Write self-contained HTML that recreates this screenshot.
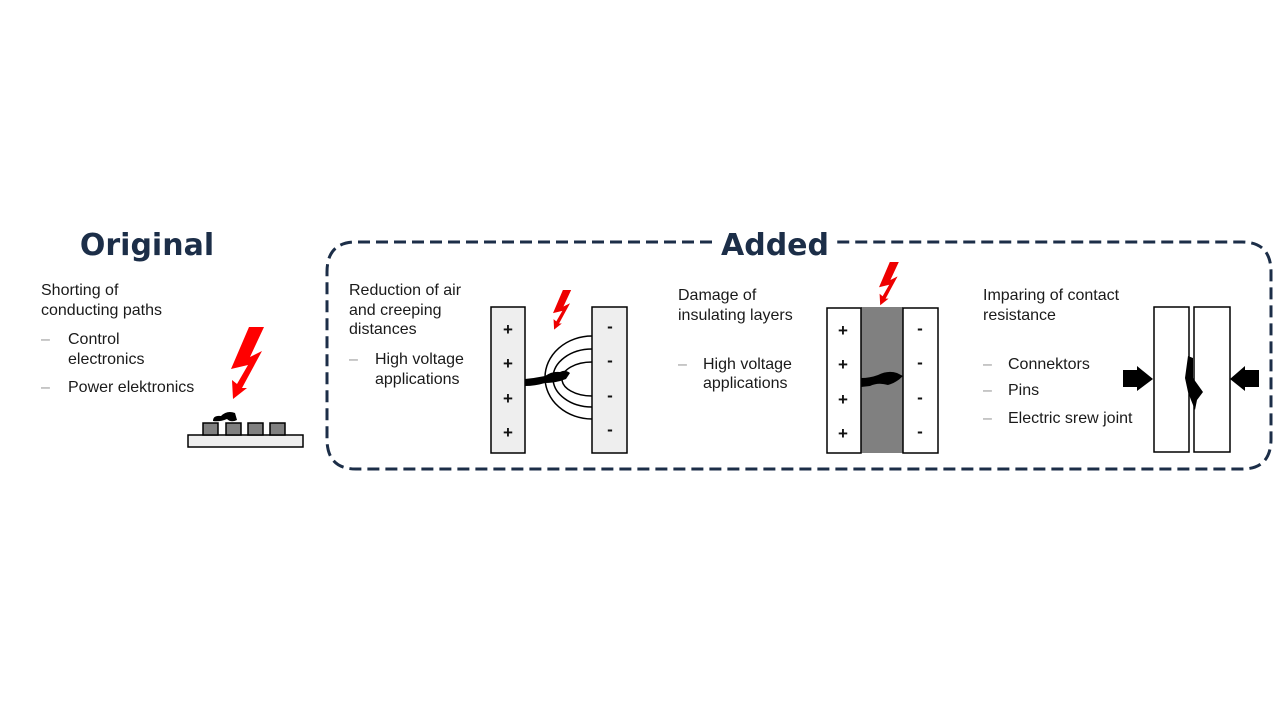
<!DOCTYPE html>
<html><head><meta charset="utf-8"><style>
html,body{margin:0;padding:0;background:#fff;}
svg{display:block;font-family:"Liberation Sans",sans-serif;}
.t{font-size:16px;fill:#1a1a1a;}
.d{font-size:16px;fill:#999;}
.h{font-size:30px;font-weight:bold;fill:#1c2e48;font-family:"DejaVu Sans","Liberation Sans",sans-serif;}
.pm{font-size:17px;fill:#111;font-weight:bold;}
</style></head><body>
<svg width="1280" height="720" viewBox="0 0 1280 720">
<defs>
<polygon id="bolt" points="249,327 264,327 250,357 262,351 242,388 247,388 233,399 232,380 237,384 248,365 231,369"/>
</defs>
<path d="M712 242 H356 Q327 242 327 272 V439 Q327 469 356 469 H1242 Q1271 469 1271 439 V272 Q1271 242 1242 242 H836" fill="none" stroke="#1c2e48" stroke-width="3" stroke-dasharray="12 6"/>
<text class="h" x="147" y="255" text-anchor="middle">Original</text>
<text class="h" x="775" y="255" text-anchor="middle">Added</text>

<text class="t" x="41" y="295">Shorting of</text>
<text class="t" x="41" y="315">conducting paths</text>
<text class="d" x="41" y="344">–</text><text class="t" x="68" y="344">Control</text>
<text class="t" x="68" y="364">electronics</text>
<text class="d" x="41" y="392">–</text><text class="t" x="68" y="392">Power elektronics</text>

<rect x="188" y="435" width="115" height="12" fill="#eee" stroke="#000" stroke-width="1.5"/>
<g fill="#808080" stroke="#000" stroke-width="1.5">
<rect x="203" y="423" width="15" height="12"/><rect x="226" y="423" width="15" height="12"/><rect x="248" y="423" width="15" height="12"/><rect x="270" y="423" width="15" height="12"/></g>
<path d="M213 421 Q213 415 221 416 Q227 410 235 413 L237 420 Q231 423 227 419 Q220 422 213 421Z" fill="#000"/>
<use href="#bolt" fill="#f00"/>

<text class="t" x="349" y="295">Reduction of air</text>
<text class="t" x="349" y="315">and creeping</text>
<text class="t" x="349" y="334">distances</text>
<text class="d" x="349" y="364">–</text><text class="t" x="375" y="364">High voltage</text>
<text class="t" x="375" y="384">applications</text>

<rect x="491" y="307" width="34" height="146" fill="#eee" stroke="#000" stroke-width="1.5"/>
<rect x="592" y="307" width="35" height="146" fill="#eee" stroke="#000" stroke-width="1.5"/>
<g class="pm" text-anchor="middle"><text x="508" y="335">+</text><text x="508" y="369">+</text><text x="508" y="404">+</text><text x="508" y="438">+</text>
<text x="610" y="332">-</text><text x="610" y="366">-</text><text x="610" y="401">-</text><text x="610" y="435">-</text></g>
<g fill="none" stroke="#000" stroke-width="1.5">
<path d="M592 336 A47 41.5 0 0 0 592 419"/><path d="M592 349 A39 29 0 0 0 592 407"/><path d="M592 362 A30 17 0 0 0 592 396"/></g>
<path d="M525 379 Q535 378 545 376 Q552 371 560 372 Q565 369 570 373 L566 379 Q556 383 545 383 Q535 386 525 386Z" fill="#000"/>
<use href="#bolt" fill="#e00" transform="translate(553,290) scale(0.55) translate(-231,-327)"/>

<text class="t" x="678" y="300">Damage of</text>
<text class="t" x="678" y="320">insulating layers</text>
<text class="d" x="678" y="369">–</text><text class="t" x="703" y="369">High voltage</text>
<text class="t" x="703" y="388">applications</text>

<rect x="861" y="307" width="42" height="146" fill="#808080"/>
<rect x="827" y="308" width="34" height="145" fill="#fff" stroke="#000" stroke-width="1.5"/>
<rect x="903" y="308" width="35" height="145" fill="#fff" stroke="#000" stroke-width="1.5"/>
<g class="pm" text-anchor="middle"><text x="843" y="336">+</text><text x="843" y="370">+</text><text x="843" y="405">+</text><text x="843" y="439">+</text>
<text x="920" y="334">-</text><text x="920" y="368">-</text><text x="920" y="403">-</text><text x="920" y="437">-</text></g>
<path d="M861 378 Q870 378 878 375 Q888 370 897 373 L903 376 Q896 383 888 385 Q878 382 870 386 L861 387Z" fill="#000"/>
<use href="#bolt" fill="#e00" transform="translate(879,262) scale(0.6) translate(-231,-327)"/>

<text class="t" x="983" y="300">Imparing of contact</text>
<text class="t" x="983" y="320">resistance</text>
<text class="d" x="983" y="369">–</text><text class="t" x="1008" y="369">Connektors</text>
<text class="d" x="983" y="395">–</text><text class="t" x="1008" y="395">Pins</text>
<text class="d" x="983" y="423">–</text><text class="t" x="1008" y="423">Electric srew joint</text>

<rect x="1154" y="307" width="35" height="145" fill="#fff" stroke="#000" stroke-width="1.5"/>
<rect x="1194" y="307" width="36" height="145" fill="#fff" stroke="#000" stroke-width="1.5"/>
<path d="M1188 356 L1193 358 L1193 378 L1203 392 L1197 400 L1195 410 L1191 400 L1188 392 L1185 378Z" fill="#000"/>
<polygon points="1123,370 1137,370 1137,366 1153,379 1137,391 1137,387 1123,387" fill="#000"/>
<polygon points="1259,370 1245,370 1245,366 1230,379 1245,391 1245,387 1259,387" fill="#000"/>
</svg>
</body></html>
